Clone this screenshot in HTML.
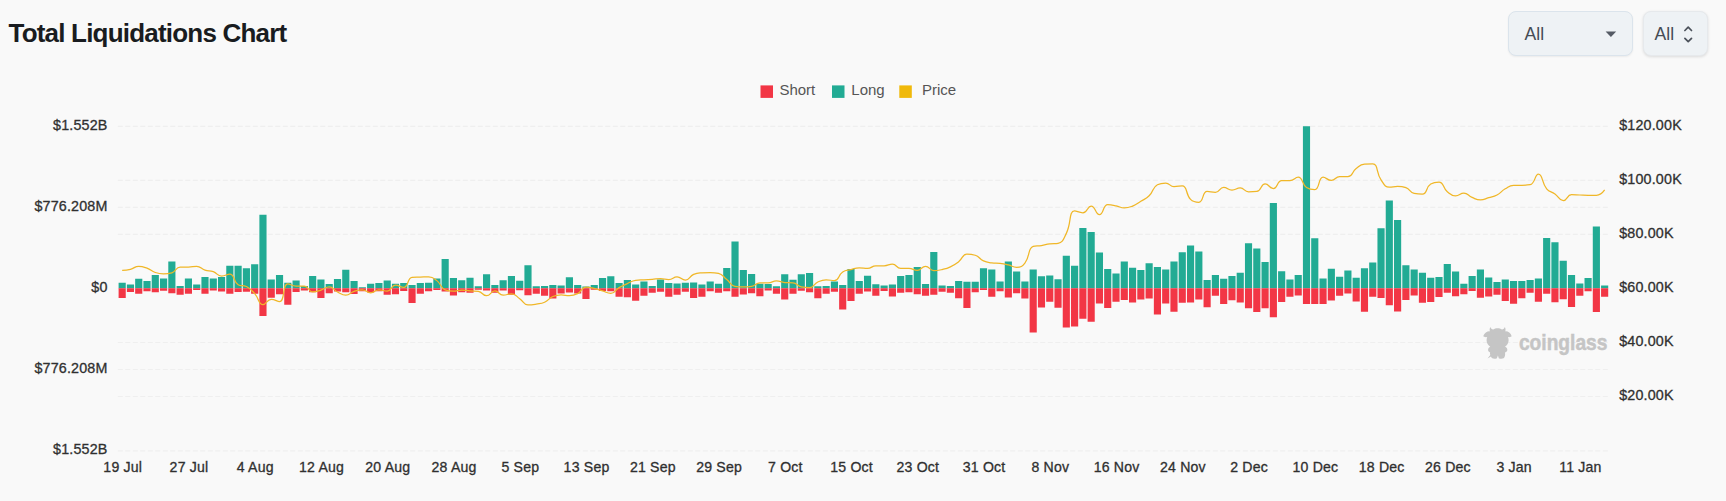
<!DOCTYPE html>
<html><head><meta charset="utf-8"><title>Total Liquidations Chart</title>
<style>
html,body{margin:0;padding:0;background:#f9f9f9;}
body{width:1726px;height:501px;position:relative;overflow:hidden;font-family:"Liberation Sans",sans-serif;}
h1{position:absolute;left:8.5px;top:16.9px;margin:0;font-size:26px;line-height:32px;font-weight:bold;color:#191c20;letter-spacing:-0.8px;white-space:nowrap;}
.sel{position:absolute;top:11px;height:42.5px;box-sizing:content-box;border:1px solid #dbe4ec;border-radius:8px;background:#eef2f5;color:#454b54;font-size:17.6px;line-height:42.5px;box-shadow:0 1px 2px rgba(0,0,0,.06);}
#s1{left:1508px;width:123px;}
#s2{left:1643px;width:63px;border-color:#e6e9ec;box-shadow:0 1px 3px rgba(0,0,0,.12);}
.sel span{position:absolute;top:0.5px;}
svg{position:absolute;left:0;top:0;}
.g{stroke:#efefef;stroke-width:1.2;stroke-dasharray:5 2.5;}
.ax{font-family:"Liberation Sans",sans-serif;font-size:14.3px;fill:#303030;stroke:#303030;stroke-width:.3px;letter-spacing:.18px;}
.xl{letter-spacing:.2px;font-size:14.1px;}
.lg{font-family:"Liberation Sans",sans-serif;font-size:15px;fill:#555;}
</style></head><body>
<h1>Total Liquidations Chart</h1>
<div class="sel" id="s1"><span style="left:15.5px">All</span></div>
<div class="sel" id="s2"><span style="left:10.5px">All</span></div>
<svg width="1726" height="501" viewBox="0 0 1726 501">
<path d="M1605.6 31.4h10.6l-5.3 5.5z" fill="#555b65"/>
<path d="M1684.9 30.5l3.300-3.300 3.300 3.300M1684.900 38.300l3.300 3.300 3.300-3.300" fill="none" stroke="#4b515a" stroke-width="1.7" stroke-linecap="round" stroke-linejoin="round"/>
<line x1="117.8" x2="1608.7" y1="126.4" y2="126.4" class="g"/>
<line x1="117.8" x2="1608.7" y1="180.4" y2="180.4" class="g"/>
<line x1="117.8" x2="1608.7" y1="207.4" y2="207.4" class="g"/>
<line x1="117.8" x2="1608.7" y1="234.4" y2="234.4" class="g"/>
<line x1="117.8" x2="1608.7" y1="288.5" y2="288.5" class="g"/>
<line x1="117.8" x2="1608.7" y1="342.5" y2="342.5" class="g"/>
<line x1="117.8" x2="1608.7" y1="369.5" y2="369.5" class="g"/>
<line x1="117.8" x2="1608.7" y1="396.5" y2="396.5" class="g"/>
<line x1="117.8" x2="1608.7" y1="450.9" y2="450.9" class="g"/>
<path fill="#22AB94" d="M118.6 288.3h7.15v-5.5h-7.15zM126.88 288.3h7.15v-3.9h-7.15zM135.16 288.3h7.15v-9.6h-7.15zM143.44 288.3h7.15v-7.4h-7.15zM151.72 288.3h7.15v-13.2h-7.15zM160.01 288.3h7.15v-9.9h-7.15zM168.29 288.3h7.15v-26.7h-7.15zM176.57 288.3h7.15v-2.2h-7.15zM184.85 288.3h7.15v-9.9h-7.15zM193.13 288.3h7.15v-3.7h-7.15zM201.42 288.3h7.15v-11.2h-7.15zM209.7 288.3h7.15v-9.9h-7.15zM217.98 288.3h7.15v-11.4h-7.15zM226.26 288.3h7.15v-22.5h-7.15zM234.54 288.3h7.15v-22.5h-7.15zM242.83 288.3h7.15v-20h-7.15zM251.11 288.3h7.15v-24.1h-7.15zM259.39 288.3h7.15v-73.6h-7.15zM267.67 288.3h7.15v-8.9h-7.15zM275.95 288.3h7.15v-13.2h-7.15zM284.24 288.3h7.15v-5.5h-7.15zM292.52 288.3h7.15v-7.7h-7.15zM300.8 288.3h7.15v-2.2h-7.15zM309.08 288.3h7.15v-12.2h-7.15zM317.36 288.3h7.15v-8.7h-7.15zM325.65 288.3h7.15v-4.2h-7.15zM333.93 288.3h7.15v-9.4h-7.15zM342.21 288.3h7.15v-18.6h-7.15zM350.49 288.3h7.15v-7.4h-7.15zM358.77 288.3h7.15v-1h-7.15zM367.06 288.3h7.15v-4.5h-7.15zM375.34 288.3h7.15v-5.2h-7.15zM383.62 288.3h7.15v-7.9h-7.15zM391.9 288.3h7.15v-4.5h-7.15zM400.18 288.3h7.15v-5.2h-7.15zM408.47 288.3h7.15v-3.4h-7.15zM416.75 288.3h7.15v-5.2h-7.15zM425.03 288.3h7.15v-5.5h-7.15zM433.31 288.3h7.15v-9.9h-7.15zM441.59 288.3h7.15v-29.2h-7.15zM449.88 288.3h7.15v-10.2h-7.15zM458.16 288.3h7.15v-8h-7.15zM466.44 288.3h7.15v-10.6h-7.15zM474.72 288.3h7.15v-2h-7.15zM483 288.3h7.15v-14.1h-7.15zM491.29 288.3h7.15v-3.2h-7.15zM499.57 288.3h7.15v-8h-7.15zM507.85 288.3h7.15v-12.2h-7.15zM516.13 288.3h7.15v-7.5h-7.15zM524.41 288.3h7.15v-23h-7.15zM532.7 288.3h7.15v-2h-7.15zM540.98 288.3h7.15v-2.3h-7.15zM549.26 288.3h7.15v-3.2h-7.15zM557.54 288.3h7.15v-2.85h-7.15zM565.82 288.3h7.15v-11.1h-7.15zM574.11 288.3h7.15v-3.2h-7.15zM582.39 288.3h7.15v-1.7h-7.15zM590.67 288.3h7.15v-3.2h-7.15zM598.95 288.3h7.15v-10.4h-7.15zM607.23 288.3h7.15v-12.1h-7.15zM615.52 288.3h7.15v-5.2h-7.15zM623.8 288.3h7.15v-8.2h-7.15zM632.08 288.3h7.15v-3.9h-7.15zM640.36 288.3h7.15v-6.9h-7.15zM648.64 288.3h7.15v-2.3h-7.15zM656.93 288.3h7.15v-8.9h-7.15zM665.21 288.3h7.15v-5.4h-7.15zM673.49 288.3h7.15v-4.9h-7.15zM681.77 288.3h7.15v-5.5h-7.15zM690.05 288.3h7.15v-5.9h-7.15zM698.34 288.3h7.15v-3.7h-7.15zM706.62 288.3h7.15v-6.9h-7.15zM714.9 288.3h7.15v-4.5h-7.15zM723.18 288.3h7.15v-20.3h-7.15zM731.46 288.3h7.15v-46.8h-7.15zM739.75 288.3h7.15v-18.4h-7.15zM748.03 288.3h7.15v-14.4h-7.15zM756.31 288.3h7.15v-4.5h-7.15zM764.59 288.3h7.15v-4.2h-7.15zM772.87 288.3h7.15v-2h-7.15zM781.16 288.3h7.15v-14.1h-7.15zM789.44 288.3h7.15v-8.5h-7.15zM797.72 288.3h7.15v-14.1h-7.15zM806 288.3h7.15v-15.3h-7.15zM814.28 288.3h7.15v-2h-7.15zM822.57 288.3h7.15v-2.3h-7.15zM830.85 288.3h7.15v-6.9h-7.15zM839.13 288.3h7.15v-3.2h-7.15zM847.41 288.3h7.15v-19.3h-7.15zM855.69 288.3h7.15v-7.4h-7.15zM863.98 288.3h7.15v-12.6h-7.15zM872.26 288.3h7.15v-4h-7.15zM880.54 288.3h7.15v-2.85h-7.15zM888.82 288.3h7.15v-3.7h-7.15zM897.1 288.3h7.15v-12.4h-7.15zM905.39 288.3h7.15v-13.2h-7.15zM913.67 288.3h7.15v-21.3h-7.15zM921.95 288.3h7.15v-4.2h-7.15zM930.23 288.3h7.15v-36.2h-7.15zM938.51 288.3h7.15v-2.85h-7.15zM946.8 288.3h7.15v-2.2h-7.15zM955.08 288.3h7.15v-7.4h-7.15zM963.36 288.3h7.15v-6.5h-7.15zM971.64 288.3h7.15v-6.5h-7.15zM979.92 288.3h7.15v-20h-7.15zM988.21 288.3h7.15v-18.9h-7.15zM996.49 288.3h7.15v-6.9h-7.15zM1004.77 288.3h7.15v-26.8h-7.15zM1013.05 288.3h7.15v-16.8h-7.15zM1021.33 288.3h7.15v-6.9h-7.15zM1029.62 288.3h7.15v-18.8h-7.15zM1037.9 288.3h7.15v-12.1h-7.15zM1046.18 288.3h7.15v-12.7h-7.15zM1054.46 288.3h7.15v-9.1h-7.15zM1062.74 288.3h7.15v-32.5h-7.15zM1071.03 288.3h7.15v-22.5h-7.15zM1079.31 288.3h7.15v-60.4h-7.15zM1087.59 288.3h7.15v-56.4h-7.15zM1095.87 288.3h7.15v-35.7h-7.15zM1104.15 288.3h7.15v-19.4h-7.15zM1112.44 288.3h7.15v-14.9h-7.15zM1120.72 288.3h7.15v-26.8h-7.15zM1129 288.3h7.15v-20.5h-7.15zM1137.28 288.3h7.15v-18.4h-7.15zM1145.56 288.3h7.15v-25.1h-7.15zM1153.85 288.3h7.15v-21.3h-7.15zM1162.13 288.3h7.15v-18.8h-7.15zM1170.41 288.3h7.15v-26.7h-7.15zM1178.69 288.3h7.15v-36h-7.15zM1186.97 288.3h7.15v-42.7h-7.15zM1195.26 288.3h7.15v-36.9h-7.15zM1203.54 288.3h7.15v-8.4h-7.15zM1211.82 288.3h7.15v-13.2h-7.15zM1220.1 288.3h7.15v-9.6h-7.15zM1228.38 288.3h7.15v-12.2h-7.15zM1236.67 288.3h7.15v-15.6h-7.15zM1244.95 288.3h7.15v-45h-7.15zM1253.23 288.3h7.15v-39.7h-7.15zM1261.51 288.3h7.15v-26.3h-7.15zM1269.79 288.3h7.15v-85.4h-7.15zM1278.08 288.3h7.15v-17.1h-7.15zM1286.36 288.3h7.15v-8.7h-7.15zM1294.64 288.3h7.15v-13.4h-7.15zM1302.92 288.3h7.15v-162h-7.15zM1311.2 288.3h7.15v-50.1h-7.15zM1319.49 288.3h7.15v-9.9h-7.15zM1327.77 288.3h7.15v-19.6h-7.15zM1336.05 288.3h7.15v-11.6h-7.15zM1344.33 288.3h7.15v-17.8h-7.15zM1352.61 288.3h7.15v-10.6h-7.15zM1360.9 288.3h7.15v-20.1h-7.15zM1369.18 288.3h7.15v-25.8h-7.15zM1377.46 288.3h7.15v-60.1h-7.15zM1385.74 288.3h7.15v-87.9h-7.15zM1394.02 288.3h7.15v-68.4h-7.15zM1402.31 288.3h7.15v-23.1h-7.15zM1410.59 288.3h7.15v-18.8h-7.15zM1418.87 288.3h7.15v-15.6h-7.15zM1427.15 288.3h7.15v-10.6h-7.15zM1435.43 288.3h7.15v-11.4h-7.15zM1443.72 288.3h7.15v-24.3h-7.15zM1452 288.3h7.15v-16.8h-7.15zM1460.28 288.3h7.15v-4.5h-7.15zM1468.56 288.3h7.15v-12.4h-7.15zM1476.84 288.3h7.15v-18.8h-7.15zM1485.13 288.3h7.15v-10.9h-7.15zM1493.41 288.3h7.15v-6.2h-7.15zM1501.69 288.3h7.15v-8.7h-7.15zM1509.97 288.3h7.15v-7.4h-7.15zM1518.25 288.3h7.15v-7.4h-7.15zM1526.54 288.3h7.15v-8.2h-7.15zM1534.82 288.3h7.15v-9.7h-7.15zM1543.1 288.3h7.15v-50.3h-7.15zM1551.38 288.3h7.15v-46.1h-7.15zM1559.66 288.3h7.15v-27.5h-7.15zM1567.95 288.3h7.15v-13.2h-7.15zM1576.23 288.3h7.15v-4.9h-7.15zM1584.51 288.3h7.15v-10.4h-7.15zM1592.79 288.3h7.15v-61.9h-7.15zM1601.07 288.3h7.15v-2.85h-7.15z"/>
<path fill="#F23645" d="M118.6 288.3h7.15v9.7h-7.15zM126.88 288.3h7.15v3.7h-7.15zM135.16 288.3h7.15v5.5h-7.15zM143.44 288.3h7.15v2.85h-7.15zM151.72 288.3h7.15v4h-7.15zM160.01 288.3h7.15v2.5h-7.15zM168.29 288.3h7.15v4.9h-7.15zM176.57 288.3h7.15v6.5h-7.15zM184.85 288.3h7.15v5.5h-7.15zM193.13 288.3h7.15v1.8h-7.15zM201.42 288.3h7.15v5.5h-7.15zM209.7 288.3h7.15v2.2h-7.15zM217.98 288.3h7.15v3.2h-7.15zM226.26 288.3h7.15v5.4h-7.15zM234.54 288.3h7.15v3.7h-7.15zM242.83 288.3h7.15v3.5h-7.15zM251.11 288.3h7.15v5.5h-7.15zM259.39 288.3h7.15v27.8h-7.15zM267.67 288.3h7.15v9.4h-7.15zM275.95 288.3h7.15v5.9h-7.15zM284.24 288.3h7.15v16.4h-7.15zM292.52 288.3h7.15v3.7h-7.15zM300.8 288.3h7.15v2.2h-7.15zM309.08 288.3h7.15v3.9h-7.15zM317.36 288.3h7.15v9.7h-7.15zM325.65 288.3h7.15v4.9h-7.15zM333.93 288.3h7.15v3.2h-7.15zM342.21 288.3h7.15v3.9h-7.15zM350.49 288.3h7.15v5.7h-7.15zM358.77 288.3h7.15v2.85h-7.15zM367.06 288.3h7.15v4.2h-7.15zM375.34 288.3h7.15v3h-7.15zM383.62 288.3h7.15v6.5h-7.15zM391.9 288.3h7.15v6h-7.15zM400.18 288.3h7.15v2.7h-7.15zM408.47 288.3h7.15v14.75h-7.15zM416.75 288.3h7.15v5.5h-7.15zM425.03 288.3h7.15v2.85h-7.15zM433.31 288.3h7.15v1.8h-7.15zM441.59 288.3h7.15v3.2h-7.15zM449.88 288.3h7.15v7.2h-7.15zM458.16 288.3h7.15v4h-7.15zM466.44 288.3h7.15v4.4h-7.15zM474.72 288.3h7.15v1.5h-7.15zM483 288.3h7.15v2.3h-7.15zM491.29 288.3h7.15v4.4h-7.15zM499.57 288.3h7.15v2.2h-7.15zM507.85 288.3h7.15v6.4h-7.15zM516.13 288.3h7.15v2h-7.15zM524.41 288.3h7.15v6.9h-7.15zM532.7 288.3h7.15v5.5h-7.15zM540.98 288.3h7.15v7.5h-7.15zM549.26 288.3h7.15v10.2h-7.15zM557.54 288.3h7.15v5.2h-7.15zM565.82 288.3h7.15v4.2h-7.15zM574.11 288.3h7.15v5.2h-7.15zM582.39 288.3h7.15v10.6h-7.15zM590.67 288.3h7.15v1.5h-7.15zM598.95 288.3h7.15v2.7h-7.15zM607.23 288.3h7.15v3h-7.15zM615.52 288.3h7.15v8.4h-7.15zM623.8 288.3h7.15v8.9h-7.15zM632.08 288.3h7.15v12.4h-7.15zM640.36 288.3h7.15v7.4h-7.15zM648.64 288.3h7.15v4.4h-7.15zM656.93 288.3h7.15v3.4h-7.15zM665.21 288.3h7.15v8.4h-7.15zM673.49 288.3h7.15v6.5h-7.15zM681.77 288.3h7.15v3.4h-7.15zM690.05 288.3h7.15v9.7h-7.15zM698.34 288.3h7.15v8.4h-7.15zM706.62 288.3h7.15v3h-7.15zM714.9 288.3h7.15v4.4h-7.15zM723.18 288.3h7.15v3h-7.15zM731.46 288.3h7.15v8.5h-7.15zM739.75 288.3h7.15v6.2h-7.15zM748.03 288.3h7.15v4.9h-7.15zM756.31 288.3h7.15v7.9h-7.15zM764.59 288.3h7.15v2.3h-7.15zM772.87 288.3h7.15v5.5h-7.15zM781.16 288.3h7.15v11.2h-7.15zM789.44 288.3h7.15v5.4h-7.15zM797.72 288.3h7.15v2.5h-7.15zM806 288.3h7.15v4h-7.15zM814.28 288.3h7.15v9.9h-7.15zM822.57 288.3h7.15v5.4h-7.15zM830.85 288.3h7.15v3.5h-7.15zM839.13 288.3h7.15v21.3h-7.15zM847.41 288.3h7.15v12.7h-7.15zM855.69 288.3h7.15v5.5h-7.15zM863.98 288.3h7.15v3.2h-7.15zM872.26 288.3h7.15v7.4h-7.15zM880.54 288.3h7.15v2.7h-7.15zM888.82 288.3h7.15v8.2h-7.15zM897.1 288.3h7.15v4.5h-7.15zM905.39 288.3h7.15v3.9h-7.15zM913.67 288.3h7.15v5.9h-7.15zM921.95 288.3h7.15v7.4h-7.15zM930.23 288.3h7.15v6.4h-7.15zM938.51 288.3h7.15v3.5h-7.15zM946.8 288.3h7.15v4.5h-7.15zM955.08 288.3h7.15v9.9h-7.15zM963.36 288.3h7.15v19.8h-7.15zM971.64 288.3h7.15v3.9h-7.15zM979.92 288.3h7.15v1.8h-7.15zM988.21 288.3h7.15v8.5h-7.15zM996.49 288.3h7.15v2.85h-7.15zM1004.77 288.3h7.15v9.1h-7.15zM1013.05 288.3h7.15v5h-7.15zM1021.33 288.3h7.15v10.1h-7.15zM1029.62 288.3h7.15v44.3h-7.15zM1037.9 288.3h7.15v19.3h-7.15zM1046.18 288.3h7.15v13.4h-7.15zM1054.46 288.3h7.15v19.4h-7.15zM1062.74 288.3h7.15v39.3h-7.15zM1071.03 288.3h7.15v38.3h-7.15zM1079.31 288.3h7.15v30.4h-7.15zM1087.59 288.3h7.15v33.5h-7.15zM1095.87 288.3h7.15v15.2h-7.15zM1104.15 288.3h7.15v19.8h-7.15zM1112.44 288.3h7.15v13.5h-7.15zM1120.72 288.3h7.15v11.6h-7.15zM1129 288.3h7.15v14.2h-7.15zM1137.28 288.3h7.15v11.2h-7.15zM1145.56 288.3h7.15v10.2h-7.15zM1153.85 288.3h7.15v26.2h-7.15zM1162.13 288.3h7.15v15.3h-7.15zM1170.41 288.3h7.15v23.5h-7.15zM1178.69 288.3h7.15v14.4h-7.15zM1186.97 288.3h7.15v14.2h-7.15zM1195.26 288.3h7.15v11.1h-7.15zM1203.54 288.3h7.15v18.9h-7.15zM1211.82 288.3h7.15v7.4h-7.15zM1220.1 288.3h7.15v15.6h-7.15zM1228.38 288.3h7.15v11.9h-7.15zM1236.67 288.3h7.15v14.2h-7.15zM1244.95 288.3h7.15v20h-7.15zM1253.23 288.3h7.15v23.6h-7.15zM1261.51 288.3h7.15v20h-7.15zM1269.79 288.3h7.15v29h-7.15zM1278.08 288.3h7.15v13.6h-7.15zM1286.36 288.3h7.15v8.4h-7.15zM1294.64 288.3h7.15v7.2h-7.15zM1302.92 288.3h7.15v15.6h-7.15zM1311.2 288.3h7.15v15.6h-7.15zM1319.49 288.3h7.15v15.6h-7.15zM1327.77 288.3h7.15v12.2h-7.15zM1336.05 288.3h7.15v7.5h-7.15zM1344.33 288.3h7.15v5.2h-7.15zM1352.61 288.3h7.15v13.1h-7.15zM1360.9 288.3h7.15v23.5h-7.15zM1369.18 288.3h7.15v8.5h-7.15zM1377.46 288.3h7.15v9.7h-7.15zM1385.74 288.3h7.15v16.9h-7.15zM1394.02 288.3h7.15v23.1h-7.15zM1402.31 288.3h7.15v11.6h-7.15zM1410.59 288.3h7.15v7.2h-7.15zM1418.87 288.3h7.15v14.4h-7.15zM1427.15 288.3h7.15v13.6h-7.15zM1435.43 288.3h7.15v8.7h-7.15zM1443.72 288.3h7.15v4.5h-7.15zM1452 288.3h7.15v7.9h-7.15zM1460.28 288.3h7.15v5.9h-7.15zM1468.56 288.3h7.15v2.7h-7.15zM1476.84 288.3h7.15v9.4h-7.15zM1485.13 288.3h7.15v8.2h-7.15zM1493.41 288.3h7.15v6.4h-7.15zM1501.69 288.3h7.15v12.6h-7.15zM1509.97 288.3h7.15v15.4h-7.15zM1518.25 288.3h7.15v9.9h-7.15zM1526.54 288.3h7.15v4.5h-7.15zM1534.82 288.3h7.15v13.4h-7.15zM1543.1 288.3h7.15v5.5h-7.15zM1551.38 288.3h7.15v13.9h-7.15zM1559.66 288.3h7.15v10.9h-7.15zM1567.95 288.3h7.15v18.8h-7.15zM1576.23 288.3h7.15v7.5h-7.15zM1584.51 288.3h7.15v2.85h-7.15zM1592.79 288.3h7.15v23.6h-7.15zM1601.07 288.3h7.15v8.4h-7.15z"/>
<path fill="none" stroke="#F0B728" stroke-width="1.25" stroke-linejoin="round" d="M122.17 270.35C122.17 270.35 126.42 270.26 130.45 269.27C134.7 268.23 134.52 266.3 138.74 266.3C142.8 266.3 143.07 266.71 147.02 268.19C151.35 269.82 150.94 271.02 155.3 272.52C159.22 273.86 159.43 273.87 163.58 273.87C167.71 273.87 168.1 273.87 171.86 272.79C176.38 271.49 175.61 267.11 180.15 267.11C183.89 267.11 184.3 267.11 188.43 267.11C192.58 267.11 192.75 266.3 196.71 266.3C201.04 266.3 200.69 268.68 204.99 270.08C208.97 271.38 209.34 270.29 213.27 271.7C217.62 273.27 217.22 276.03 221.56 276.03C225.5 276.03 226.62 274.14 229.84 274.14C234.91 274.14 233.05 281.69 238.12 284.67C241.33 286.56 242.77 284.67 246.4 286.56C251.05 288.98 251.04 289.6 254.68 293.58C259.32 298.65 258.14 304.65 262.97 304.65C266.42 304.65 266.83 299.25 271.25 299.25C275.11 299.25 277 301.68 279.53 301.68C285.28 301.68 282.04 283.86 287.81 283.86C290.32 283.86 291.88 286.02 296.09 286.02C300.17 286.02 300.66 286.02 304.38 286.02C308.94 286.02 308.14 291.96 312.66 291.96C316.42 291.96 316.89 291.32 320.94 290.07C325.17 288.76 325.27 286.83 329.22 286.83C333.55 286.83 333.17 289.77 337.5 291.96C341.46 293.96 341.69 295.2 345.78 295.2C349.97 295.2 349.77 292.82 354.07 291.42C358.05 290.12 358.29 289.8 362.35 289.8C366.58 289.8 366.49 292.77 370.63 292.77C374.77 292.77 374.67 289.8 378.91 289.8C382.96 289.8 383.46 291.15 387.2 291.15C391.74 291.15 390.98 285.21 395.48 285.21C399.26 285.21 400.47 287.37 403.76 287.37C408.75 287.37 406.99 277.8 412.04 277.38C415.27 277.11 416.18 277.24 420.32 277.11C424.46 276.97 424.66 276.84 428.61 276.84C432.94 276.84 433.38 277.87 436.89 280.62C441.66 284.35 440.24 287.81 445.17 289.8C448.52 291.15 449.3 291.15 453.45 291.15C457.58 291.15 457.58 290.07 461.73 290.07C465.87 290.07 465.87 290.54 470.01 290.88C474.15 291.22 474.4 290.88 478.3 291.42C482.68 292.03 482.5 295.74 486.58 295.74C490.78 295.74 490.66 290.88 494.86 290.88C498.94 290.88 498.78 295.2 503.14 295.2C507.06 295.2 507.56 293.85 511.42 293.85C515.84 293.85 515.72 296.05 519.71 298.71C524 301.59 523.4 304.93 527.99 304.93C531.68 304.93 532.17 304.78 536.27 304.11C540.45 303.43 540.76 303.96 544.55 302.22C549.04 300.18 548.34 298.48 552.84 296.55C556.62 294.93 556.95 294.93 561.12 294.93C565.23 294.93 565.32 295.74 569.4 295.74C573.6 295.74 573.96 295.52 577.68 293.58C582.25 291.2 581.36 287.1 585.96 287.1C589.64 287.1 590.16 287.52 594.25 288.45C598.44 289.41 598.39 289.67 602.53 290.88C606.67 292.1 606.98 293.31 610.81 293.31C615.26 293.31 614.77 290.17 619.09 287.64C623.06 285.31 623.16 285.44 627.37 283.59C631.44 281.8 631.37 280.93 635.65 280.35C639.65 279.81 639.8 280.08 643.94 279.81C648.08 279.54 648.08 279.54 652.22 279.27C656.36 279 656.37 278.73 660.5 278.73C664.65 278.73 664.74 279.54 668.78 279.54C673.02 279.54 672.97 276.84 677.06 276.84C681.25 276.84 681.46 280.08 685.35 280.08C689.74 280.08 689.13 276.33 693.63 274.41C697.41 272.79 697.73 273.06 701.91 272.79C706.01 272.52 706.06 272.52 710.19 272.52C714.34 272.52 714.78 272.52 718.48 273.33C723.07 274.33 722.68 276.35 726.76 279.54C730.96 282.83 730.38 285.59 735.04 286.29C738.66 286.83 739.18 286.83 743.32 286.83C747.46 286.83 747.63 286.83 751.6 286.29C755.91 285.7 755.57 282.78 759.88 282.78C763.85 282.78 764.08 282.78 768.17 282.78C772.36 282.78 772.29 280.89 776.45 280.89C780.58 280.89 780.55 282.23 784.73 282.51C788.83 282.78 789.09 282.51 793.01 282.78C797.37 283.08 796.94 285.93 801.29 286.83C805.22 287.64 805.82 287.64 809.58 287.64C814.11 287.64 813.39 284.08 817.86 281.97C821.67 280.17 821.94 279.81 826.14 279.81C830.22 279.81 831.03 280.62 834.42 280.62C839.31 280.62 837.89 275.19 842.7 271.97C846.17 269.66 846.8 270.57 850.99 269.54C855.08 268.54 855.09 267.92 859.27 267.92C863.38 267.92 863.51 268.46 867.55 268.46C871.79 268.46 871.59 265.76 875.83 265.76C879.87 265.76 880.01 265.76 884.12 265.76C888.29 265.76 888.47 264.14 892.4 264.14C896.75 264.14 896.29 268.46 900.68 268.46C904.57 268.46 904.87 268.46 908.96 268.46C913.15 268.46 913.27 270.35 917.24 270.35C921.55 270.35 921.41 266.3 925.52 266.3C929.69 266.3 929.43 270.62 933.81 270.62C937.72 270.62 938.04 270.47 942.09 269.54C946.32 268.58 946.46 268.69 950.37 266.84C954.74 264.78 954.8 264.66 958.65 261.71C963.08 258.32 962.19 254.15 966.93 254.15C970.47 254.15 971.46 254.15 975.22 255.23C979.74 256.53 979.01 258.85 983.5 260.9C987.3 262.63 987.59 262.24 991.78 262.79C995.87 263.33 995.96 262.8 1000.06 263.33C1004.24 263.88 1004.25 263.95 1008.35 264.95C1012.53 265.98 1012.65 267.38 1016.63 267.38C1020.93 267.38 1022.15 266.57 1024.91 263.06C1030.43 256.04 1027.46 248.14 1033.19 246.32C1035.74 245.51 1037.36 246.11 1041.47 245.51C1045.64 244.89 1045.58 244.43 1049.76 243.89C1053.86 243.35 1054.81 243.89 1058.04 243.35C1063.09 242.5 1063.4 239.06 1066.32 233.35C1071.69 222.85 1068.49 210.94 1074.6 210.94C1076.77 210.94 1079.21 212.83 1082.88 212.83C1087.5 212.83 1087.26 206.07 1091.16 206.07C1095.54 206.07 1095.47 214.72 1099.45 214.72C1103.76 214.72 1102.69 204.72 1107.73 204.72C1110.97 204.72 1111.92 205 1116.01 205.8C1120.2 206.62 1120.14 207.97 1124.29 207.97C1128.42 207.97 1128.69 207.66 1132.58 206.07C1136.97 204.28 1136.78 203.74 1140.86 201.21C1145.06 198.61 1145.69 199.25 1149.14 195.81C1153.97 191.01 1152.28 187.39 1157.42 184.74C1160.56 183.12 1161.69 183.12 1165.7 183.12C1169.98 183.12 1169.68 186.63 1173.98 186.63C1177.96 186.63 1179.41 185.82 1182.27 185.82C1187.7 185.82 1185.22 194.03 1190.55 199.32C1193.51 202.26 1195.58 202.29 1198.83 202.29C1203.86 202.29 1201.97 191.49 1207.11 191.49C1210.26 191.49 1211.55 192.3 1215.39 192.3C1219.83 192.3 1219.33 187.44 1223.68 187.44C1227.62 187.44 1227.78 190.14 1231.96 190.14C1236.06 190.14 1236.23 187.98 1240.24 187.98C1244.51 187.98 1244.19 191.76 1248.52 191.76C1252.47 191.76 1253.29 191.76 1256.81 191.49C1261.57 191.12 1260.6 183.93 1265.09 183.93C1268.88 183.93 1269.61 188.52 1273.37 188.52C1277.89 188.52 1276.85 180.69 1281.65 180.69C1285.14 180.69 1285.96 180.69 1289.93 180.69C1294.25 180.69 1294.86 177.18 1298.21 177.18C1303.14 177.18 1301.47 184.11 1306.5 187.44C1309.76 189.6 1311.76 189.6 1314.78 189.6C1320.04 189.6 1317.87 177.18 1323.06 177.18C1326.15 177.18 1327.25 180.42 1331.34 180.42C1335.53 180.42 1335.29 176.64 1339.62 176.64C1343.57 176.64 1344.45 176.64 1347.91 176.64C1352.74 176.64 1351.6 171.97 1356.19 168.53C1359.89 165.76 1360.08 164.52 1364.47 164.21C1368.36 163.94 1370.14 163.94 1372.75 163.94C1378.42 163.94 1375.91 172.68 1381.04 179.88C1384.19 184.3 1384.6 187.17 1389.32 187.17C1392.88 187.17 1393.48 186.36 1397.6 186.36C1401.76 186.36 1402.11 186.36 1405.88 187.71C1410.39 189.32 1409.63 192.4 1414.16 193.38C1417.92 194.19 1419.24 194.19 1422.44 194.19C1427.52 194.19 1425.69 186.86 1430.73 183.93C1433.97 182.04 1435.7 182.04 1439.01 182.04C1443.98 182.04 1442.48 187.76 1447.29 191.76C1450.76 194.65 1451.31 195.81 1455.57 195.81C1459.6 195.81 1459.86 193.11 1463.86 193.11C1468.14 193.11 1467.83 195.68 1472.14 197.43C1476.11 199.05 1476.26 199.86 1480.42 199.86C1484.54 199.86 1484.6 198.91 1488.7 197.7C1492.88 196.48 1493.2 197.04 1496.98 195C1501.48 192.58 1500.83 191.39 1505.26 188.79C1509.12 186.53 1509.23 185.28 1513.55 185.28C1517.52 185.28 1517.69 185.28 1521.83 185.28C1525.97 185.28 1526.94 185.28 1530.11 184.74C1535.23 183.87 1534.71 174.2 1538.39 174.2C1543 174.2 1541.44 182.55 1546.67 188.79C1549.72 192.41 1551.01 191.09 1554.96 193.92C1559.29 197.03 1559 200.67 1563.24 200.67C1567.28 200.67 1566.95 194.73 1571.52 194.73C1575.23 194.73 1575.66 194.87 1579.8 195C1583.94 195.14 1583.94 195.27 1588.09 195.27C1592.22 195.27 1592.59 195.27 1596.37 195.27C1600.87 195.27 1604.65 189.87 1604.65 189.87"/>
<text class="ax" x="107.6" y="130.2" text-anchor="end">$1.552B</text>
<text class="ax" x="107.6" y="211.23" text-anchor="end">$776.208M</text>
<text class="ax" x="107.6" y="292.25" text-anchor="end">$0</text>
<text class="ax" x="107.6" y="373.28" text-anchor="end">$776.208M</text>
<text class="ax" x="107.6" y="454.3" text-anchor="end">$1.552B</text>
<text class="ax" x="1619.2" y="130.2">$120.00K</text>
<text class="ax" x="1619.2" y="184.22">$100.00K</text>
<text class="ax" x="1619.2" y="238.23">$80.00K</text>
<text class="ax" x="1619.2" y="292.25">$60.00K</text>
<text class="ax" x="1619.2" y="346.27">$40.00K</text>
<text class="ax" x="1619.2" y="400.28">$20.00K</text>
<text class="ax xl" x="122.77" y="471.8" text-anchor="middle">19 Jul</text>
<text class="ax xl" x="189.03" y="471.8" text-anchor="middle">27 Jul</text>
<text class="ax xl" x="255.28" y="471.8" text-anchor="middle">4 Aug</text>
<text class="ax xl" x="321.54" y="471.8" text-anchor="middle">12 Aug</text>
<text class="ax xl" x="387.8" y="471.8" text-anchor="middle">20 Aug</text>
<text class="ax xl" x="454.05" y="471.8" text-anchor="middle">28 Aug</text>
<text class="ax xl" x="520.31" y="471.8" text-anchor="middle">5 Sep</text>
<text class="ax xl" x="586.56" y="471.8" text-anchor="middle">13 Sep</text>
<text class="ax xl" x="652.82" y="471.8" text-anchor="middle">21 Sep</text>
<text class="ax xl" x="719.08" y="471.8" text-anchor="middle">29 Sep</text>
<text class="ax xl" x="785.33" y="471.8" text-anchor="middle">7 Oct</text>
<text class="ax xl" x="851.59" y="471.8" text-anchor="middle">15 Oct</text>
<text class="ax xl" x="917.84" y="471.8" text-anchor="middle">23 Oct</text>
<text class="ax xl" x="984.1" y="471.8" text-anchor="middle">31 Oct</text>
<text class="ax xl" x="1050.36" y="471.8" text-anchor="middle">8 Nov</text>
<text class="ax xl" x="1116.61" y="471.8" text-anchor="middle">16 Nov</text>
<text class="ax xl" x="1182.87" y="471.8" text-anchor="middle">24 Nov</text>
<text class="ax xl" x="1249.12" y="471.8" text-anchor="middle">2 Dec</text>
<text class="ax xl" x="1315.38" y="471.8" text-anchor="middle">10 Dec</text>
<text class="ax xl" x="1381.63" y="471.8" text-anchor="middle">18 Dec</text>
<text class="ax xl" x="1447.89" y="471.8" text-anchor="middle">26 Dec</text>
<text class="ax xl" x="1514.15" y="471.8" text-anchor="middle">3 Jan</text>
<text class="ax xl" x="1580.4" y="471.8" text-anchor="middle">11 Jan</text>
<rect x="760.5" y="85.4" width="12.5" height="12.5" fill="#F23645"/>
<text class="lg" x="779.4" y="95.3">Short</text>
<rect x="832" y="85.4" width="12.5" height="12.5" fill="#22AB94"/>
<text class="lg" x="851.3" y="95.3">Long</text>
<rect x="899.3" y="85.4" width="12.5" height="12.5" fill="#F0B90B"/>
<text class="lg" x="922" y="95.3">Price</text>
<g fill="#c5c5c5">
<path d="M1490.4 326.9C1490.8 328.2 1491.8 329.3 1493.2 329.6C1494.5 328.7 1496 328.2 1497.6 328.2C1499.2 328.2 1500.7 328.7 1502 329.6C1503.4 329.3 1504.4 328.2 1504.8 326.9C1505.6 328.3 1505.8 330 1505.2 331.4C1507.5 331 1510.6 332.5 1511.7 336.2C1510.5 337.2 1509 337.4 1508 337.1C1508.9 339.5 1508.8 342 1507.6 344C1506.9 345.2 1506 346.1 1505 346.8C1506.5 347.3 1507.6 348.6 1507.3 350.2C1507 351.6 1505.8 352.2 1505 352.4C1505.4 354.5 1505 357 1503.6 358.3C1502.2 359 1500 358.9 1498.8 358.2L1497.9 355.5L1496.9 358.2C1495.7 358.9 1493.5 359 1492.2 358.3C1491.6 357.8 1491.2 357.2 1491 356.6L1487.5 358.4L1490.3 355C1489.9 354 1489.9 353.2 1490.1 352.4C1489 352 1488.2 351.3 1488.1 350.2C1487.9 348.6 1489 347.3 1490.3 346.8C1489.2 346.1 1488.3 345.2 1487.6 344C1486.4 342 1486.3 339.5 1487.2 337.1C1486.2 337.4 1484.7 337.2 1483.2 336.2C1484.6 332.5 1487.7 331 1490 331.4C1489.4 330 1489.600 328.3 1490.4 326.9Z"/>
<text x="1518.9" y="349.8" font-family="Liberation Sans, sans-serif" font-weight="bold" font-size="22.6" stroke="#c5c5c5" stroke-width=".5" textLength="88.6" lengthAdjust="spacingAndGlyphs">coinglass</text></g>
</svg>
</body></html>
